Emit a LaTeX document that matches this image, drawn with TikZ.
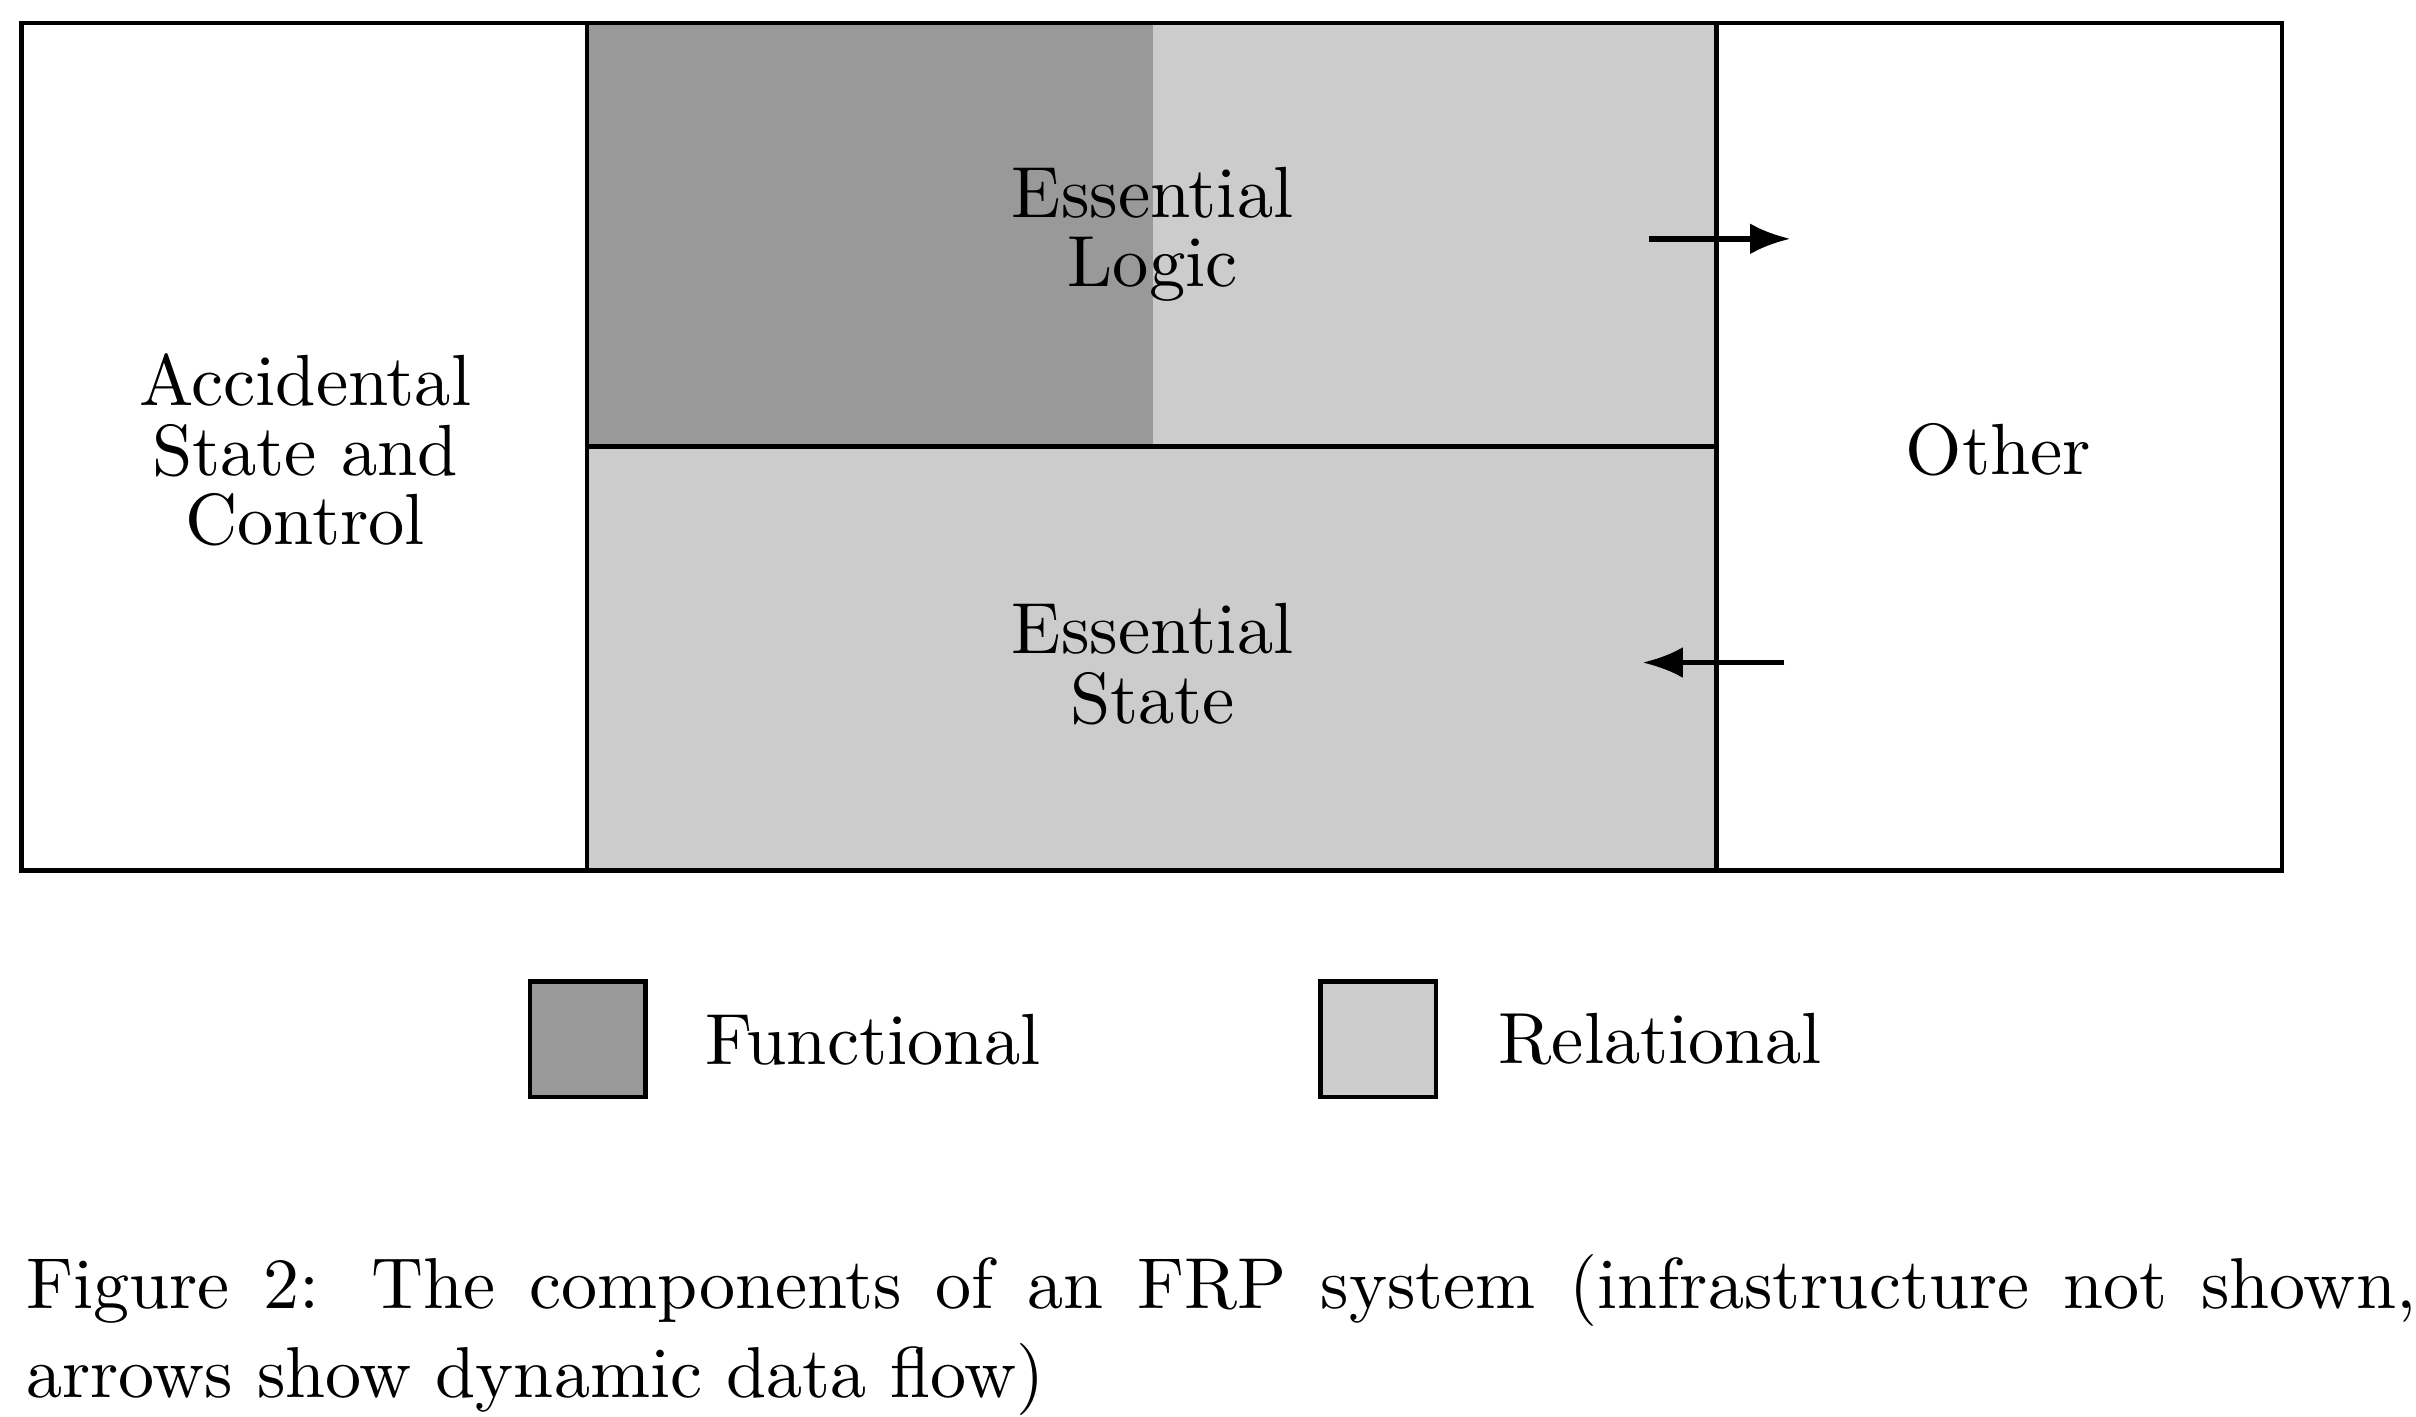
\documentclass[tikz,border=0pt]{standalone}
\usepackage{tikz}
\usetikzlibrary{positioning, arrows.meta, calc}
\definecolor{funcgray}{gray}{0.6}
\definecolor{relgray}{gray}{0.8}

\begin{document}
\begin{tikzpicture}[x=0.2105pt, y=-0.2105pt,
    part/.style={line width=0.65pt},
    lbl/.style={font=\fontsize{9.9}{9.5}\selectfont, align=center},
    key/.style={draw, line width=0.65pt, minimum size=15.8pt, inner sep=0pt},
    flow/.style={-{Latex[length=5.5pt,width=4.2pt]}, line width=0.75pt}]
    \useasboundingbox (0,0) rectangle (1568,919);

    % The components
    \fill[funcgray] (381,15) rectangle (748,290);
    \fill[relgray] (748,15) rectangle (1114,290);
    \fill[relgray] (381,290) rectangle (1114,565);
    \draw[part] (14,15) rectangle (1481,565);
    \draw[part] (381,15) -- (381,565);
    \draw[part] (1114,15) -- (1114,565);
    \draw[part] (381,290) -- (1114,290);

    % Labels for components
    \node[lbl] (acc) at (198,292) {Accidental\\State and\\Control};
    \node[lbl] (logic) at (748,152) {Essential\\Logic};
    \node[lbl] (state) at (748,431) {Essential\\State};
    \node[lbl] (other) at (1297,292) {Other};

    % Data flow
    \coordinate (logicout) at (1070,155);
    \coordinate (otherin) at (1162,155);
    \coordinate (otherout) at (1158,430);
    \coordinate (statein) at (1066,430);
    \draw[flow] (logicout) -- (otherin);
    \draw[flow] (otherout) -- (statein);

    % Legend
    \node[key, fill=funcgray] (funckey) at (381.5,674.5) {};
    \node[lbl, right=7.6pt of funckey, inner sep=0pt] (functxt) {Functional};
    \node[key, fill=relgray] (relkey) at (894.5,674.5) {};
    \node[lbl, right=8pt of relkey, inner sep=0pt] (reltxt) {Relational};

    % Caption
    \node[anchor=base west, inner sep=0pt, font=\fontsize{9.85}{12}\selectfont] (cap1) at (16,849)
        {\makebox[326.5pt][s]{Figure 2: The components of an FRP system (infrastructure not shown,}};
    \node[anchor=base west, inner sep=0pt, font=\fontsize{9.85}{12}\selectfont] (cap2) at (16,907)
        {arrows show dynamic data flow)};
\end{tikzpicture}
\end{document}
